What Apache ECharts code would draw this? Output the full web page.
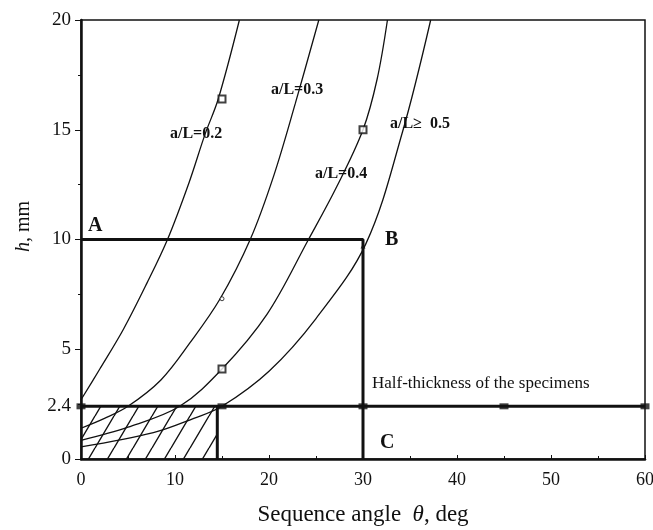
<!DOCTYPE html>
<html>
<head>
<meta charset="utf-8">
<script src="https://cdn.jsdelivr.net/npm/echarts@6/dist/echarts.min.js"></script>
<style>
html, body { margin: 0; padding: 0; background: #fff; }
#main { width: 653px; height: 530px; }
</style>
</head>
<body>
<div id="main"></div>
<script>
// h (mm) vs sequence angle theta (deg), one curve per a/L
var theta02 = [0, 2, 4.5, 7, 9.2, 11.5, 13.2, 14.6, 16.85];
var h02     = [2.7, 4.1, 5.9, 8.0, 10, 12.6, 14.8, 16.4, 20];
var theta03 = [0, 2.5, 5, 8.5, 11.6, 14.8, 18, 20.5, 22.8, 25.3];
var h03     = [1.4, 1.85, 2.4, 3.6, 5.3, 7.3, 10, 12.9, 16.2, 20];
var theta04 = [0, 5, 10.5, 15, 19.8, 24.2, 27.2, 30, 31.5, 32.6];
var h04     = [0.85, 1.45, 2.4, 4.1, 6.6, 10, 12.4, 15, 17.3, 20];
var theta05 = [0, 7.7, 12, 15, 20, 25, 30.3, 34.2, 37.2];
var h05     = [0.55, 1.2, 1.85, 2.4, 4.0, 6.4, 9.8, 14.9, 20];

// test points
var sqTheta = [15, 15, 30];
var sqH     = [16.4, 4.1, 15];
var ciTheta = [15];
var ciH     = [7.3];
var dotTheta = [30];
var dotH     = [9.7];
var halfTheta = [0, 15, 30, 45, 60];
var halfH     = [2.4, 2.4, 2.4, 2.4, 2.4];

// limits
var halfThickness = 2.4;
var critAngle = 14.5;
var depthAB = 10;
var angleB = 30;

var yLabels = [0, 2.4, 5, 10, 15, 20];

function pairs(xs, ys) {
    return xs.map(function (x, i) { return [x, ys[i]]; });
}

function hatch() {
    var w = 19, h = 32;
    var c = document.createElement('canvas');
    c.width = w; c.height = h;
    var ctx = c.getContext('2d');
    ctx.strokeStyle = '#111';
    ctx.lineWidth = 1.4;
    ctx.beginPath();
    for (var k = -1; k <= 1; k++) {
        ctx.moveTo(k * w, h);
        ctx.lineTo(k * w + w, 0);
    }
    ctx.stroke();
    return c;
}

var serif = '"Liberation Serif", "DejaVu Serif", serif';
var ink = '#111';

function curve(xs, ys) {
    return {
        type: 'line', data: pairs(xs, ys), smooth: 0.35, symbol: 'none',
        lineStyle: { color: ink, width: 1.3 }, z: 3
    };
}
function thick(data) {
    return {
        type: 'line', data: data, symbol: 'none',
        lineStyle: { color: ink, width: 3 }, z: 4
    };
}

var chart = echarts.init(document.getElementById('main'));
var option = {
    animation: false,
    backgroundColor: '#fff',
    grid: { left: 81, right: 8, top: 20, bottom: 71, outerBoundsMode: 'none',
        show: true, borderColor: ink, borderWidth: 1.5 },
    xAxis: {
        type: 'value', min: 0, max: 60, interval: 10,
        name: 'Sequence angle  {i|θ}, deg',
        nameLocation: 'middle', nameGap: 44,
        nameTextStyle: { fontFamily: serif, fontSize: 23, color: ink,
            rich: { i: { fontStyle: 'italic', fontFamily: serif, fontSize: 23, color: ink } } },
        axisLine: { lineStyle: { color: ink, width: 2.5 } },
        axisTick: { inside: true, length: 4, lineStyle: { color: ink } },
        minorTick: { show: true, splitNumber: 2, length: 3, lineStyle: { color: ink } },
        splitLine: { show: false },
        axisLabel: { fontFamily: serif, fontSize: 18, color: ink, margin: 12 }
    },
    yAxis: {
        type: 'value', min: 0, max: 20, interval: 5,
        name: '{i|h}, mm',
        nameLocation: 'middle', nameGap: 47, nameRotate: 90,
        nameTextStyle: { fontFamily: serif, fontSize: 20, color: ink, padding: [0, 0, 0, 26],
            rich: { i: { fontStyle: 'italic', fontFamily: serif, fontSize: 20, color: ink } } },
        axisLine: { lineStyle: { color: ink, width: 2.5 } },
        axisTick: { length: 6, lineStyle: { color: ink } },
        minorTick: { show: true, splitNumber: 2, length: 3, lineStyle: { color: ink } },
        splitLine: { show: false },
        axisLabel: { customValues: yLabels, fontFamily: serif, fontSize: 19, color: ink, margin: 10 }
    },
    series: [
        {
            type: 'line', data: [], symbol: 'none',
            markArea: {
                silent: true,
                itemStyle: { color: { image: hatch(), repeat: 'repeat' } },
                data: [[{ coord: [0, 0] }, { coord: [critAngle, halfThickness] }]]
            },
            z: 1
        },
        curve(theta02, h02),
        curve(theta03, h03),
        curve(theta04, h04),
        curve(theta05, h05),
        thick([[0, depthAB], [angleB, depthAB], [angleB, 0]]),
        thick([[0, halfThickness], [60, halfThickness]]),
        thick([[critAngle, 0], [critAngle, halfThickness]]),
        {
            type: 'scatter', data: pairs(sqTheta, sqH), symbol: 'rect', symbolSize: 7,
            itemStyle: { color: '#fff', borderColor: ink, borderWidth: 2 }, z: 5
        },
        {
            type: 'scatter', data: pairs(ciTheta, ciH), symbol: 'circle', symbolSize: 4,
            itemStyle: { color: '#fff', borderColor: ink, borderWidth: 1 }, z: 5
        },
        {
            type: 'scatter', data: pairs(dotTheta, dotH), symbol: 'triangle', symbolSize: 5,
            itemStyle: { color: ink }, z: 5
        },
        {
            type: 'scatter', data: pairs(halfTheta, halfH), symbol: 'rect', symbolSize: [9, 6],
            itemStyle: { color: ink }, z: 5
        }
    ],
    graphic: [
        { type: 'text', left: 170, top: 126, style: { text: 'a/L=0.2', font: 'bold 16px ' + serif, fill: ink } },
        { type: 'text', left: 271, top: 82, style: { text: 'a/L=0.3', font: 'bold 16px ' + serif, fill: ink } },
        { type: 'text', left: 315, top: 166, style: { text: 'a/L=0.4', font: 'bold 16px ' + serif, fill: ink } },
        { type: 'text', left: 390, top: 116, style: { text: 'a/L\u2265  0.5', font: 'bold 16px ' + serif, fill: ink } },
        { type: 'text', left: 88, top: 216, style: { text: 'A', font: 'bold 20px ' + serif, fill: ink } },
        { type: 'text', left: 385, top: 230, style: { text: 'B', font: 'bold 20px ' + serif, fill: ink } },
        { type: 'text', left: 380, top: 433, style: { text: 'C', font: 'bold 20px ' + serif, fill: ink } },
        { type: 'text', left: 372, top: 375, style: { text: 'Half-thickness of the specimens', font: '17px ' + serif, fill: ink } }
    ]
};
chart.setOption(option);
</script>
</body>
</html>
